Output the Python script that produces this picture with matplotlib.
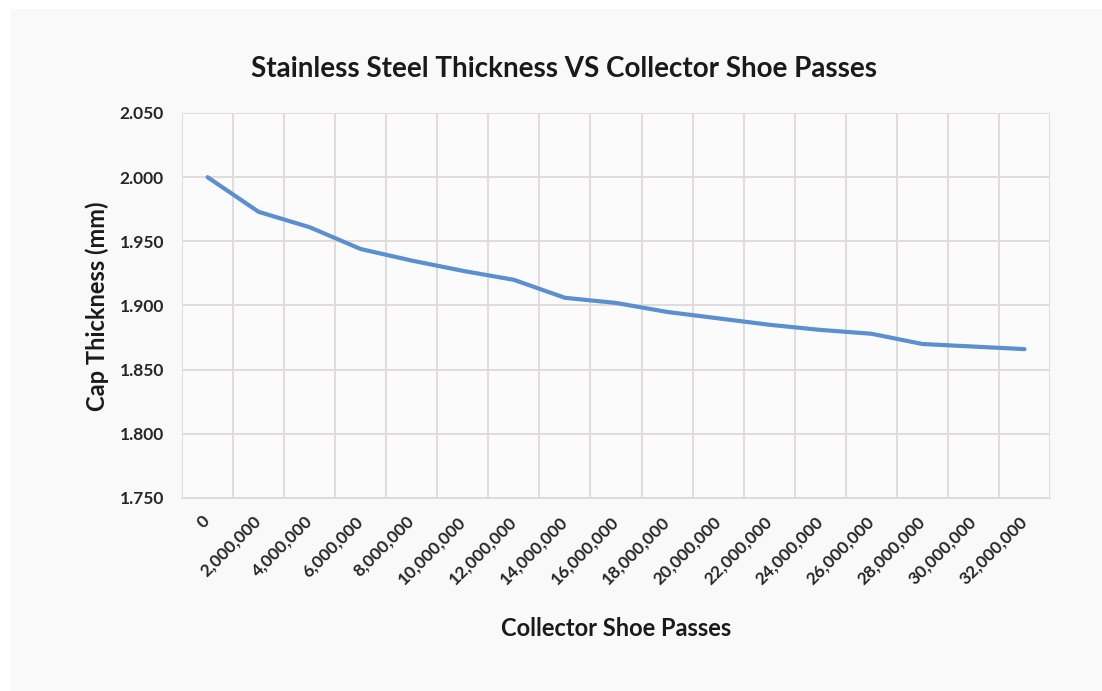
import matplotlib
matplotlib.use("Agg")
import matplotlib.pyplot as plt
from matplotlib.patches import Rectangle
from matplotlib.ticker import FixedLocator
from matplotlib.transforms import ScaledTranslation

plt.rcParams['font.family'] = ['Lato', 'DejaVu Sans']

categories = ["0", "2,000,000", "4,000,000", "6,000,000", "8,000,000", "10,000,000",
              "12,000,000", "14,000,000", "16,000,000", "18,000,000", "20,000,000",
              "22,000,000", "24,000,000", "26,000,000", "28,000,000", "30,000,000",
              "32,000,000"]
thickness = [2.000, 1.973, 1.961, 1.944, 1.935, 1.927, 1.920, 1.906, 1.902, 1.895,
             1.890, 1.885, 1.881, 1.878, 1.870, 1.868, 1.866]
y_ticks = [1.750, 1.800, 1.850, 1.900, 1.950, 2.000, 2.050]

W, H = 1102, 691
fig = plt.figure(figsize=(W / 100, H / 100), dpi=100)
fig.patch.set_facecolor("white")
fig.patches.append(Rectangle((10 / W, 0), 1 - 10 / W, 1 - 9 / H, transform=fig.transFigure,
                             facecolor="#f9f9f9", edgecolor="none", zorder=-10))

ax = fig.add_axes([182 / W, 1 - 498 / H, (1050 - 182) / W, (498 - 113) / H])
ax.set_facecolor("#fbfbfb")

x = list(range(len(categories)))
ax.plot(x, thickness, color="#5b8fcf", lw=3.0, solid_capstyle="round", zorder=3)

ax.set_xlim(-0.5, len(categories) - 0.5)
ax.set_ylim(y_ticks[0], y_ticks[-1])
ax.set_yticks(y_ticks)
ax.set_yticklabels([f"{v:.3f}" for v in y_ticks], fontsize=12.5, fontweight="bold", color="#262626")
ax.set_xticks(x)
ax.set_xticklabels(categories, rotation=45, ha="right", va="center", rotation_mode="anchor",
                   fontsize=12.5, fontweight="bold", color="#262626")
shift = ScaledTranslation(4 / 100, 0, fig.dpi_scale_trans)
for lbl in ax.get_xticklabels():
    lbl.set_transform(lbl.get_transform() + shift)
ax.xaxis.set_minor_locator(FixedLocator([i - 0.5 for i in range(len(categories) + 1)]))
ax.tick_params(axis="both", which="both", length=0)
ax.tick_params(axis="x", which="major", pad=15)
ax.tick_params(axis="y", which="major", pad=13)

ax.grid(True, axis="y", which="major", color="#e0dcdc", lw=1.4)
ax.grid(True, axis="x", which="minor", color="#e0dcdc", lw=1.4)
ax.grid(False, axis="x", which="major")
ax.set_axisbelow(True)
for s in ["top", "right", "left"]:
    ax.spines[s].set_visible(False)
ax.spines["bottom"].set_color("#dcdcdc")
ax.spines["bottom"].set_linewidth(1.4)

fig.text(564 / W, 1 - 77 / H, "Stainless Steel Thickness VS Collector Shoe Passes",
         ha="center", va="baseline", fontsize=20, fontweight="bold", color="#1a1a1a")
fig.text(105 / W, 1 - 306 / H, "Cap Thickness (mm)", rotation=90, rotation_mode="anchor",
         ha="center", va="baseline", fontsize=17, fontweight="bold", color="#1a1a1a")
fig.text(616 / W, 1 - 636 / H, "Collector Shoe Passes", ha="center", va="baseline",
         fontsize=17, fontweight="bold", color="#1a1a1a")

fig.savefig("out.png", dpi=100, facecolor=fig.get_facecolor())
